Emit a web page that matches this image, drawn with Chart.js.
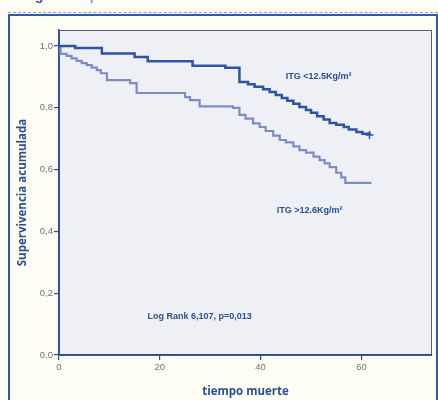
<!DOCTYPE html>
<html>
<head>
<meta charset="utf-8">
<script src="https://cdn.jsdelivr.net/npm/chart.js@4.4.1/dist/chart.umd.min.js"></script>
<style>
  html, body { margin:0; padding:0; background:#fffef6; width:438px; height:400px; overflow:hidden; }
  #title { position:absolute; left:10px; top:-12px; font-family:"Liberation Sans", Arial, sans-serif; font-size:14px; line-height:14px; color:#4a78c0; white-space:nowrap; }
  #title b { color:#2b5ca8; }
  #dash { position:absolute; left:8px; top:12px; width:430px; border-top:1px dashed #9a9a9a; }
  #box { position:absolute; left:8px; top:14px; width:426px; height:400px; border:2px solid #2b5ca8; background:#fffef5; }
  #c { position:absolute; left:0; top:0; }
</style>
</head>
<body>
<div id="title"><b>&#9632; Figura.</b> Kaplan Meier de mortalidad de ITG</div>
<div id="dash"></div>
<div id="box"></div>
<canvas id="c" width="438" height="400"></canvas>
<script>
// Kaplan-Meier curves: event times (months) and cumulative survival
const lowTimes  = [0, 3.2, 8.5, 15, 17.6, 26.5, 33, 35.8, 37.5, 38.8, 40.5, 41.8, 43, 44.2, 45.3, 46.5, 47.7, 49, 50, 51.2, 52.5, 53.7, 55, 56.5, 57.5, 59, 60.2, 61.6];
const lowSurv   = [1.0, 0.994, 0.976, 0.965, 0.951, 0.936, 0.930, 0.884, 0.876, 0.868, 0.860, 0.851, 0.842, 0.832, 0.823, 0.813, 0.803, 0.793, 0.784, 0.773, 0.762, 0.751, 0.745, 0.738, 0.730, 0.722, 0.716, 0.712];
const highTimes = [0, 0.3, 1.5, 2.5, 3.5, 4.5, 5.5, 6.5, 7.5, 8.3, 9.5, 14.1, 15.4, 25, 26, 27.9, 34.5, 35.8, 37, 38.5, 39.8, 41, 42.5, 43.8, 45, 46.5, 47.7, 49, 50.5, 51.7, 52.7, 53.7, 55, 56, 56.8, 62];
const highSurv  = [1.0, 0.975, 0.968, 0.960, 0.952, 0.945, 0.938, 0.930, 0.922, 0.912, 0.890, 0.880, 0.848, 0.835, 0.825, 0.805, 0.800, 0.777, 0.765, 0.750, 0.738, 0.725, 0.710, 0.696, 0.688, 0.675, 0.663, 0.655, 0.642, 0.631, 0.620, 0.608, 0.590, 0.575, 0.557, 0.557];
const xTicks = [0, 20, 40, 60];
const yTicks = [0, 0.2, 0.4, 0.6, 0.8, 1.0];
const seriesLabels = ['ITG <12.5Kg/m\u00B2', 'ITG >12.6Kg/m\u00B2'];
const statText = 'Log Rank 6,107, p=0,013';

const toPts = (t, s) => t.map((v, i) => ({ x: v, y: s[i] }));

const bgPlugin = {
  id: 'bg',
  beforeDraw(chart) {
    const { ctx, chartArea: a } = chart;
    ctx.save();
    ctx.fillStyle = '#eff0f6';
    ctx.fillRect(a.left, a.top, a.right - a.left, a.bottom - a.top);
    ctx.strokeStyle = '#55607f';
    ctx.lineWidth = 1;
    ctx.strokeRect(a.left + 0.5, a.top + 0.5, a.right - a.left - 1, a.bottom - a.top);
    ctx.restore();
  },
  afterDatasetsDraw(chart) {
    const { ctx, scales: { x, y } } = chart;
    ctx.save();
    ctx.font = 'bold 9px "Liberation Sans", Arial, sans-serif';
    ctx.textAlign = 'center';
    ctx.textBaseline = 'middle';
    ctx.fillStyle = '#2a4d96';
    ctx.fillText(seriesLabels[0], x.getPixelForValue(51.5), y.getPixelForValue(0.9));
    ctx.fillText(seriesLabels[1], x.getPixelForValue(49.7), y.getPixelForValue(0.469));
    ctx.fillStyle = '#2f4f90';
    ctx.fillText(statText, x.getPixelForValue(27.9), y.getPixelForValue(0.123));
    ctx.restore();
  }
};

new Chart(document.getElementById('c'), {
  type: 'line',
  data: {
    datasets: [
      { label: seriesLabels[0], data: toPts(lowTimes, lowSurv), stepped: true, borderColor: '#2d55a3', borderWidth: 2.5,
        pointRadius: lowTimes.map((v, i) => i === lowTimes.length - 1 ? 4 : 0), pointStyle: 'cross', pointBorderColor: '#2d55a3', pointBorderWidth: 1.5 },
      { label: seriesLabels[1], data: toPts(highTimes, highSurv), stepped: true, borderColor: '#7d8dc4', borderWidth: 2.2, pointRadius: 0 }
    ]
  },
  options: {
    responsive: false,
    animation: false,
    devicePixelRatio: 1,
    layout: { padding: { left: 0, right: 6, top: 30, bottom: 0 } },
    plugins: { legend: { display: false }, tooltip: { enabled: false } },
    scales: {
      x: {
        type: 'linear', min: 0, max: 74,
        afterBuildTicks: s => { s.ticks = xTicks.map(v => ({ value: v })); },
        afterFit: s => { s.height = 45; },
        grid: { display: true, drawOnChartArea: false, drawTicks: true, tickLength: 5, color: '#2c4d8f', lineWidth: 1.2 },
        border: { display: true, color: '#2c4d8f', width: 1.5 },
        ticks: { color: '#6d7283', font: { size: 9.5, family: '"Liberation Sans", Arial, sans-serif' }, padding: 2, maxRotation: 0 },
        title: { display: true, text: 'tiempo muerte', color: '#2b4f96', font: { size: 11.5, weight: 'bold', family: '"Open Sans", "Liberation Sans", sans-serif' }, padding: { top: 0, bottom: 1 } }
      },
      y: {
        type: 'linear', min: 0, max: 1.052,
        afterBuildTicks: s => { s.ticks = yTicks.map(v => ({ value: v })); },
        afterFit: s => { s.width = 59; },
        grid: { display: true, drawOnChartArea: false, drawTicks: true, tickLength: 5, color: '#2c4d8f', lineWidth: 1.2 },
        border: { display: true, color: '#2c4d8f', width: 1.5 },
        ticks: { color: '#6d7283', font: { size: 9.5, family: '"Liberation Sans", Arial, sans-serif' }, padding: 1,
          callback: v => v.toFixed(1).replace('.', ',') },
        title: { display: true, text: 'Supervivencia acumulada', color: '#2b4f96', font: { size: 11.5, weight: 'bold', family: '"Open Sans", "Liberation Sans", sans-serif' }, padding: { top: 16, bottom: 0 } }
      }
    }
  },
  plugins: [bgPlugin]
});
</script>
</body>
</html>
